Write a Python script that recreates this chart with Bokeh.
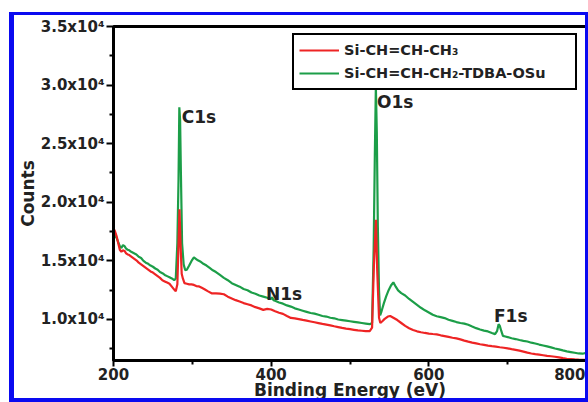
from bokeh.plotting import figure
from bokeh.models import FixedTicker, Legend, LegendItem, Range1d, ColumnDataSource
from bokeh.core.properties import value
from bokeh.embed import file_html
from bokeh.resources import INLINE

# ---- data ----
energy_green = [200, 202, 204, 206, 208, 210, 212, 214, 216, 218, 220, 223, 226, 229, 232, 235, 238, 241, 244, 247,
                250, 253, 256, 259, 262, 265, 268, 271, 274, 277, 279, 281, 282.5, 283.5, 284.5, 285.5, 287, 289, 291, 293,
                296, 299, 302, 304, 307, 310, 314, 318, 322, 326, 330, 335, 340, 345, 350, 355, 360, 365, 370, 375,
                380, 385, 390, 395, 400, 401, 403, 405, 410, 415, 420, 425, 430, 435, 440, 445, 450, 455, 460, 465,
                470, 475, 480, 485, 490, 495, 500, 505, 510, 515, 520, 525, 528, 530, 531.5, 532.8, 534, 535.3, 536.8, 538.2,
                540, 543, 546, 549, 552, 555, 558, 561, 565, 570, 575, 580, 585, 590, 595, 600, 605, 610, 615, 620,
                625, 630, 635, 640, 645, 650, 655, 660, 665, 670, 675, 680, 684, 686.5, 688.5, 690, 692, 694, 697, 700,
                705, 710, 715, 720, 725, 730, 735, 740, 745, 750, 755, 760, 765, 770, 775, 780, 785, 790, 795, 800]
counts_green = [17430, 17100, 16950, 16600, 16250, 16100, 16350, 16250, 16050, 15950, 15900, 15750, 15650, 15550, 15350, 15250, 15000, 14850, 14750, 14600,
                14500, 14350, 14250, 14050, 13950, 13800, 13700, 13600, 13500, 13350, 13500, 16500, 22000, 28100, 27000, 22500, 16500, 14700, 14200, 14250,
                14600, 15000, 15300, 15200, 15050, 14950, 14750, 14600, 14400, 14200, 14050, 13800, 13550, 13350, 13100, 12950, 12800, 12600, 12500, 12300,
                12200, 12050, 11950, 11850, 11750, 11900, 11650, 11600, 11450, 11350, 11200, 11100, 10950, 10850, 10750, 10650, 10550, 10500, 10400, 10300,
                10250, 10150, 10100, 10000, 9950, 9900, 9850, 9800, 9750, 9700, 9650, 9600, 9700, 16000, 24000, 29870, 26000, 18000, 12500, 10350,
                10700, 11400, 12000, 12500, 12900, 13170, 12800, 12480, 12250, 12050, 11750, 11500, 11250, 11000, 10780, 10600, 10400, 10280, 10200, 10120,
                9980, 9880, 9780, 9700, 9650, 9550, 9400, 9260, 9150, 9050, 8980, 8850, 8750, 9000, 9600, 9450, 9000, 8600, 8550, 8500,
                8400, 8330, 8250, 8180, 8120, 8020, 7950, 7860, 7780, 7700, 7620, 7520, 7450, 7360, 7280, 7220, 7160, 7100, 7080, 7170]

energy_red = [200, 202, 204, 206, 208, 210, 212, 214, 216, 218, 220, 223, 226, 229, 232, 235, 238, 241, 244, 247,
              250, 253, 256, 259, 262, 265, 268, 271, 274, 277, 279, 281, 282.5, 283.7, 285, 286.5, 288, 290, 293, 296,
              299, 302, 305, 308, 312, 316, 320, 325, 330, 335, 340, 345, 350, 355, 360, 365, 370, 375, 380, 385,
              390, 395, 400, 405, 410, 415, 420, 425, 430, 435, 440, 445, 450, 455, 460, 465, 470, 475, 480, 485,
              490, 495, 500, 505, 510, 515, 520, 525, 528, 530.3, 532.9, 534.5, 536.8, 538.5, 541, 544, 548, 551, 555, 560,
              565, 570, 575, 580, 585, 590, 595, 600, 605, 610, 615, 620, 625, 630, 635, 640, 645, 650, 655, 660,
              665, 670, 675, 680, 685, 690, 695, 700, 705, 710, 715, 720, 725, 730, 735, 740, 745, 750, 755, 760,
              765, 770, 775, 780, 785, 790, 795, 800]
counts_red = [17780, 17500, 17100, 16500, 15950, 15780, 15900, 15850, 15650, 15550, 15500, 15350, 15200, 15050, 14850, 14700, 14550, 14400, 14250, 14100,
              14000, 13850, 13700, 13550, 13350, 13250, 13150, 13050, 12800, 12550, 12400, 13000, 16500, 19400, 16500, 13900, 13500, 13100, 13050, 13000,
              13000, 12950, 12850, 12830, 12700, 12560, 12400, 12220, 12230, 12200, 12150, 11950, 11800, 11650, 11530, 11400, 11300, 11200, 11050, 10950,
              10820, 10900, 10850, 10700, 10580, 10480, 10300, 10130, 10100, 10030, 9960, 9900, 9830, 9760, 9690, 9620, 9560, 9500, 9420, 9350,
              9280, 9220, 9170, 9120, 9070, 9040, 9010, 9000, 9300, 14600, 18500, 14200, 10150, 9700, 9850, 10050, 10250, 10300, 10150, 9950,
              9700, 9450, 9250, 9100, 8990, 8910, 8850, 8800, 8760, 8730, 8650, 8580, 8510, 8440, 8390, 8300, 8200, 8110, 8030, 7960,
              7890, 7830, 7770, 7720, 7680, 7630, 7590, 7540, 7470, 7410, 7340, 7260, 7170, 7100, 7040, 7000, 6950, 6900, 6860, 6820,
              6760, 6700, 6650, 6620, 6590, 6570, 6560, 6560]

legend_labels = ["Si-CH=CH-CH\u2083", "Si-CH=CH-CH\u2082-TDBA-OSu"]

y_ticks = [10000, 15000, 20000, 25000, 30000, 35000]
y_tick_labels = ["1.0x10\u2074", "1.5x10\u2074", "2.0x10\u2074", "2.5x10\u2074", "3.0x10\u2074", "3.5x10\u2074"]
y_minor_ticks = [7500, 12500, 17500, 22500, 27500, 32500]
x_ticks = [200, 400, 600, 800]
x_minor_ticks = [300, 500, 700]

peak_names = ["C1s", "O1s", "N1s", "F1s"]
peak_x = [286.5, 534.2, 393.5, 682.6]
peak_y = [27261, 28565, 12216, 10303]

RED = "#ee2424"
GREEN = "#1c9e48"
BLUE = "#0a0af0"
FONT = "DejaVu Sans"

p = figure(width=579, height=390, output_backend="svg", toolbar_location=None,
           x_range=Range1d(200, 800), y_range=Range1d(6500, 35000),
           min_border_left=99, min_border_right=7, min_border_top=11, min_border_bottom=45,
           background_fill_color="white", border_fill_color="white",
           styles={"margin-left": "9px", "margin-top": "12px",
                   "border-left": f"5px solid {BLUE}", "border-top": f"3px solid {BLUE}",
                   "border-right": f"3px solid {BLUE}", "border-bottom": f"4px solid {BLUE}"})
p.grid.visible = False
p.outline_line_color = "black"
p.outline_line_width = 3
p.outline_line_alpha = 1

p.xaxis.ticker = FixedTicker(ticks=x_ticks, minor_ticks=x_minor_ticks)
p.yaxis.ticker = FixedTicker(ticks=y_ticks, minor_ticks=y_minor_ticks)
p.yaxis.major_label_overrides = {t: l for t, l in zip(y_ticks, y_tick_labels)}

for ax in (p.xaxis[0], p.yaxis[0]):
    ax.axis_line_width = 3
    ax.axis_line_color = "black"
    ax.major_tick_line_width = 2
    ax.minor_tick_line_width = 2
    ax.major_tick_out = 7
    ax.major_tick_in = 0
    ax.minor_tick_out = 4
    ax.minor_tick_in = 0
    ax.major_label_text_font = FONT
    ax.major_label_text_font_style = "bold"
    ax.major_label_text_font_size = "15px"
    ax.major_label_text_color = "#222222"
    ax.major_label_text_line_height = 1.0
    ax.axis_label_text_font = FONT
    ax.axis_label_text_font_style = "bold"
    ax.axis_label_text_font_size = "17px"
    ax.axis_label_text_color = "#222222"
    ax.axis_label_text_line_height = 1.0

p.xaxis.axis_label = "Binding Energy (eV)"
p.yaxis.axis_label = "Counts"
p.xaxis.major_tick_out = 6
p.xaxis.major_label_standoff = 1
p.xaxis.axis_label_standoff = -3
p.yaxis.major_label_standoff = 2
p.yaxis.axis_label_standoff = 0

src_g = ColumnDataSource(dict(x=energy_green, y=counts_green))
src_r = ColumnDataSource(dict(x=energy_red, y=counts_red))
r_green = p.line("x", "y", source=src_g, line_color=GREEN, line_width=2.2)
r_red = p.line("x", "y", source=src_r, line_color=RED, line_width=2.2)

p.text(x=peak_x, y=peak_y, text=peak_names, text_font=value(FONT), text_font_style="bold",
       text_font_size="17px", text_color="#222222", text_baseline="alphabetic", text_align="left")

legend = Legend(items=[LegendItem(label=legend_labels[0], renderers=[r_red]),
                       LegendItem(label=legend_labels[1], renderers=[r_green])],
                location=(179, 270), orientation="vertical",
                border_line_color="black", border_line_width=2, border_line_alpha=1,
                background_fill_color="white", background_fill_alpha=1,
                padding=5, spacing=3, margin=0, glyph_width=40, glyph_height=20,
                label_height=20, label_width=226, label_standoff=5,
                label_text_font=FONT, label_text_font_style="bold", label_text_font_size="14.5px",
                label_text_color="#222222")
p.add_layout(legend)

open("out.html", "w").write(file_html(p, INLINE))
